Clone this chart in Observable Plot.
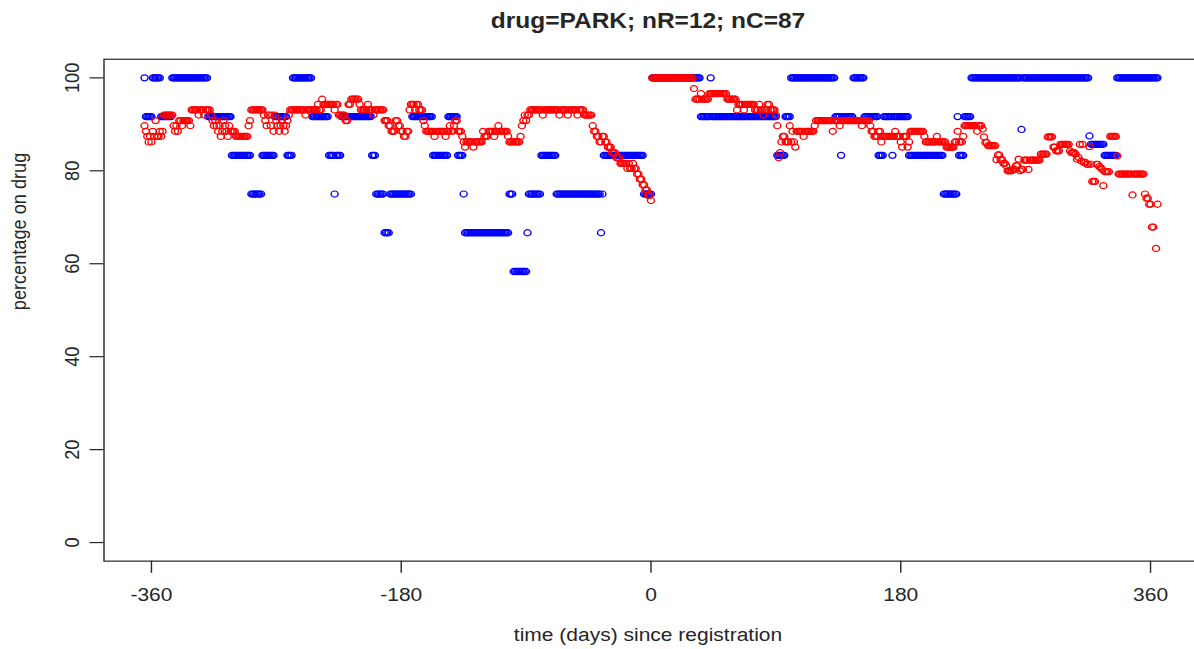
<!DOCTYPE html>
<html>
<head>
<meta charset="utf-8">
<script src="https://cdn.jsdelivr.net/npm/d3@7"></script>
<script src="https://cdn.jsdelivr.net/npm/@observablehq/plot@0.6"></script>
<style>
  html, body { margin: 0; padding: 0; background: #fff; overflow: hidden; }
  #frame { width: 1194px; height: 649px; overflow: hidden; }
  /* the figure is laid out at 750px tall and compressed vertically to 649px */
  #chart { width: 1198px; transform: scaleY(0.8653); transform-origin: 0 0; }
  #chart svg { display: block; }
</style>
</head>
<body>
<div id="frame"><div id="chart"></div></div>
<script>
// Title and axis texts
const title = "drug=PARK; nR=12; nC=87";
const xLabel = "time (days) since registration";
const yLabel = "percentage on drug";
const xTicks = [-360, -180, 0, 180, 360];
const yTicks = [0, 20, 40, 60, 80, 100];

// Registered group (blue): runs of consecutive days [first day, last day, percentage on drug]
const blueRuns = [
  [-365, -365, 100], [-364, -360, 91.67], [-359, -354, 100], [-353, -346, 91.67],
  [-345, -320, 100], [-319, -303, 91.67], [-302, -289, 83.33], [-288, -281, 75],
  [-280, -272, 83.33], [-271, -263, 91.67], [-262, -259, 83.33], [-258, -245, 100],
  [-244, -233, 91.67], [-232, -229, 83.33], [-228, -228, 75], [-227, -224, 83.33],
  [-223, -202, 91.67], [-201, -199, 83.33], [-198, -193, 75], [-192, -189, 66.67],
  [-188, -173, 75], [-172, -158, 91.67], [-157, -147, 83.33], [-146, -140, 91.67],
  [-139, -136, 83.33], [-135, -135, 75], [-134, -103, 66.67], [-102, -100, 75],
  [-99, -90, 58.33], [-89, -89, 66.67], [-88, -80, 75], [-79, -69, 83.33],
  [-68, -37, 75], [-36, -36, 66.67], [-35, -35, 75], [-34, -6, 83.33], [-5, 0, 75],
  [1, 35, 100], [36, 42, 91.67], [43, 43, 100], [44, 90, 91.67], [91, 96, 83.33],
  [97, 100, 91.67], [101, 132, 100], [133, 136, 91.67], [137, 137, 83.33],
  [138, 145, 91.67], [146, 153, 100], [154, 163, 91.67], [164, 167, 83.33],
  [168, 173, 91.67], [174, 174, 83.33], [175, 185, 91.67], [186, 210, 83.33],
  [211, 220, 75], [221, 221, 91.67], [222, 225, 83.33], [226, 230, 91.67],
  [231, 266, 100], [267, 267, 88.89], [268, 315, 100], [316, 316, 87.5],
  [317, 326, 85.71], [327, 335, 83.33], [336, 365, 100]
];

// Comparison group (red): runs of consecutive days [first day, last day, percentage on drug]
const redRuns = [
  [-365, -365, 89.7], [-364, -364, 88.5], [-363, -363, 87.4], [-362, -362, 86.2],
  [-361, -361, 87.4], [-360, -360, 86.2], [-359, -359, 88.5], [-358, -358, 87.4],
  [-357, -357, 90.8], [-356, -355, 87.4], [-354, -354, 88.5], [-353, -353, 87.4],
  [-352, -352, 88.5], [-351, -345, 92.0], [-344, -344, 89.7], [-343, -343, 88.5],
  [-342, -342, 89.7], [-341, -341, 88.5], [-340, -339, 90.8], [-338, -338, 89.7],
  [-337, -333, 90.8], [-332, -332, 89.7], [-331, -327, 93.1], [-326, -326, 92.0],
  [-325, -323, 93.1], [-322, -322, 92.0], [-321, -318, 93.1], [-317, -317, 92.0],
  [-316, -316, 90.8], [-315, -315, 89.7], [-314, -314, 90.8], [-313, -313, 89.7],
  [-312, -312, 88.5], [-311, -311, 89.7], [-310, -310, 87.4], [-309, -309, 88.5],
  [-308, -308, 90.8], [-307, -307, 89.7], [-306, -306, 88.5], [-305, -305, 87.4],
  [-304, -304, 89.7], [-303, -300, 88.5], [-299, -291, 87.4], [-290, -290, 89.7],
  [-289, -289, 90.8], [-288, -280, 93.1], [-279, -279, 92.0], [-278, -278, 90.8],
  [-277, -277, 89.7], [-276, -275, 92.0], [-274, -274, 89.7], [-273, -273, 92.0],
  [-272, -272, 88.5], [-271, -271, 92.0], [-270, -270, 90.8], [-269, -269, 89.7],
  [-268, -268, 88.5], [-267, -267, 89.7], [-266, -266, 90.8], [-265, -265, 89.7],
  [-264, -264, 88.5], [-263, -263, 89.7], [-262, -262, 90.8], [-261, -261, 92.0],
  [-260, -250, 93.1], [-249, -249, 92.0], [-248, -241, 93.1], [-240, -240, 94.3],
  [-239, -238, 93.1], [-237, -237, 95.4], [-236, -229, 94.3], [-228, -228, 93.1],
  [-227, -226, 94.3], [-225, -221, 92.0], [-220, -219, 90.8], [-218, -217, 94.3],
  [-216, -211, 95.4], [-210, -210, 94.3], [-209, -205, 93.1], [-204, -204, 94.3],
  [-203, -201, 93.1], [-200, -200, 92.0], [-199, -193, 93.1], [-192, -190, 90.8],
  [-189, -188, 89.7], [-187, -185, 88.5], [-184, -183, 90.8], [-182, -181, 89.7],
  [-180, -179, 88.5], [-178, -177, 87.4], [-176, -175, 88.5], [-174, -174, 93.1],
  [-173, -171, 94.3], [-170, -170, 93.1], [-169, -168, 94.3], [-167, -165, 93.1],
  [-164, -164, 90.8], [-163, -163, 89.7], [-162, -157, 88.5], [-156, -156, 87.4],
  [-155, -149, 88.5], [-148, -148, 87.4], [-147, -146, 88.5], [-145, -145, 89.7],
  [-144, -143, 88.5], [-142, -142, 89.7], [-141, -140, 90.8], [-139, -137, 88.5],
  [-136, -136, 87.4], [-135, -135, 86.2], [-134, -134, 85.1], [-133, -129, 86.2],
  [-128, -128, 85.1], [-127, -122, 86.2], [-121, -121, 88.5], [-120, -118, 87.4],
  [-117, -114, 88.5], [-113, -113, 87.4], [-112, -111, 88.5], [-110, -110, 89.7],
  [-109, -104, 88.5], [-103, -103, 87.4], [-102, -95, 86.2], [-94, -94, 87.4],
  [-93, -93, 89.7], [-92, -92, 90.8], [-91, -91, 92.0], [-90, -90, 90.8],
  [-89, -88, 92.0], [-87, -79, 93.1], [-78, -78, 92.0], [-77, -67, 93.1],
  [-66, -66, 92.0], [-65, -61, 93.1], [-60, -60, 92.0], [-59, -54, 93.1],
  [-53, -53, 92.0], [-52, -49, 93.1], [-48, -43, 92.0], [-42, -42, 89.7],
  [-41, -40, 88.5], [-39, -38, 87.4], [-37, -36, 86.2], [-35, -34, 87.4],
  [-33, -32, 86.2], [-31, -29, 85.1], [-28, -26, 83.9], [-25, -23, 82.8],
  [-22, -18, 81.6], [-17, -17, 80.5], [-16, -16, 81.6], [-15, -14, 80.5],
  [-13, -13, 81.6], [-12, -11, 80.5], [-10, -9, 79.3], [-8, -7, 78.2],
  [-6, -5, 77.0], [-4, -3, 75.9], [-2, -1, 74.7], [0, 0, 73.6],
  [1, 30, 100], [31, 31, 97.7], [32, 35, 95.4], [36, 36, 96.6], [37, 41, 95.4],
  [42, 54, 96.6], [55, 61, 95.4], [62, 62, 93.1], [63, 66, 94.3], [67, 67, 93.1],
  [68, 74, 94.3], [75, 77, 93.1], [78, 78, 94.3], [79, 80, 93.1], [81, 81, 92.0],
  [82, 83, 93.1], [84, 85, 94.3], [86, 89, 93.1], [90, 90, 92.0], [91, 91, 89.7],
  [92, 92, 82.8], [93, 93, 83.9], [94, 94, 86.2], [95, 96, 87.4], [97, 99, 86.2],
  [100, 100, 89.7], [101, 101, 86.2], [102, 102, 88.5], [103, 103, 86.2],
  [104, 104, 85.1], [105, 109, 88.5], [110, 110, 87.4], [111, 117, 88.5],
  [118, 118, 89.7], [119, 130, 90.8], [131, 131, 88.5], [132, 135, 90.8],
  [136, 136, 89.7], [137, 151, 90.8], [152, 152, 89.7], [153, 157, 90.8],
  [158, 158, 89.7], [159, 160, 88.5], [161, 163, 87.4], [164, 165, 88.5],
  [166, 166, 86.2], [167, 175, 87.4], [176, 176, 88.5], [177, 179, 87.4],
  [180, 180, 86.2], [181, 181, 85.1], [182, 184, 87.4], [185, 185, 85.1],
  [186, 186, 86.2], [187, 196, 88.5], [197, 197, 87.4], [198, 205, 86.2],
  [206, 206, 87.4], [207, 212, 86.2], [213, 218, 85.1], [219, 220, 86.2],
  [221, 221, 88.5], [222, 224, 86.2], [225, 225, 87.4], [226, 234, 89.7],
  [235, 235, 88.5], [236, 238, 89.7], [239, 239, 89.0], [240, 240, 87.3],
  [241, 242, 86.1], [243, 248, 85.4], [249, 249, 82.4], [250, 251, 83.4],
  [252, 253, 82.4], [254, 255, 81.6], [256, 256, 81.1], [257, 260, 80.0],
  [261, 262, 80.3], [263, 264, 81.1], [265, 265, 82.5], [266, 266, 80.0],
  [267, 268, 80.3], [269, 271, 82.3], [272, 272, 80.3], [273, 280, 82.3],
  [281, 285, 83.6], [286, 289, 87.3], [290, 291, 85.1], [292, 294, 84.3],
  [295, 301, 85.7], [302, 302, 84.3], [303, 305, 83.9], [306, 306, 83.6],
  [307, 307, 82.5], [308, 308, 82.9], [309, 309, 85.7], [310, 310, 82.1],
  [311, 311, 85.7], [312, 313, 81.8], [314, 315, 81.4], [316, 316, 85.2],
  [317, 317, 81.4], [318, 320, 77.7], [321, 322, 81.4], [323, 323, 80.9],
  [324, 324, 80.7], [325, 325, 80.3], [326, 326, 76.8], [327, 330, 79.8],
  [331, 335, 87.4], [336, 336, 83.2], [337, 346, 79.3], [347, 347, 74.8],
  [348, 355, 79.3], [356, 356, 75.0], [357, 358, 74.1], [359, 360, 72.8],
  [361, 362, 67.9], [364, 364, 63.3], [365, 365, 72.8]
];

// one point per day from the runs
function toPoints(runs) {
  const pts = [];
  for (const [first, last, pct] of runs) {
    for (let day = first; day <= last; day++) pts.push({day, pct});
  }
  return pts;
}
const bluePts = toPoints(blueRuns);
const redPts = toPoints(redRuns);

const ink = "#262626";
const font = "'Liberation Sans', Arial, Helvetica, sans-serif";

const chart = Plot.plot({
  width: 1198,
  height: 750,
  marginLeft: 103.5,
  marginRight: 0.5,
  marginTop: 68,
  marginBottom: 102,
  style: {fontFamily: font, fontSize: "21px", color: ink, background: "#fff", overflow: "visible"},
  x: {domain: [-394.2, 394.2]},
  y: {domain: [-4, 104]},
  marks: [
    Plot.dot(bluePts, {x: "day", y: "pct", r: 3.5, stroke: "#0000ff", strokeWidth: 1.4}),
    Plot.dot(redPts, {x: "day", y: "pct", r: 3.5, stroke: "#ff0000", strokeWidth: 1.4}),
    Plot.frame({stroke: ink, strokeWidth: 1.4}),
    Plot.axisX(xTicks, {
      tickSize: 14, tickPadding: 17, label: null, stroke: ink, strokeWidth: 1.4,
      fontSize: 21, tickFormat: d => String(d)
    }),
    Plot.axisY(yTicks, {
      tickSize: 14, tickPadding: 11, tickRotate: -90, label: null, stroke: ink, strokeWidth: 1.4,
      fontSize: 21, tickFormat: d => String(d)
    }),
    Plot.text([title], {
      text: d => d, frameAnchor: "top", dx: -3, dy: -54, fontSize: 24.5, fontWeight: "bold", fill: ink
    }),
    Plot.text([xLabel], {
      text: d => d, frameAnchor: "bottom", dx: -3, dy: 92, fontSize: 21, fill: ink
    }),
    Plot.text([yLabel], {
      text: d => d, frameAnchor: "left", dx: -85, rotate: -90, fontSize: 21, fill: ink
    })
  ]
});
document.getElementById("chart").append(chart);
</script>
</body>
</html>
